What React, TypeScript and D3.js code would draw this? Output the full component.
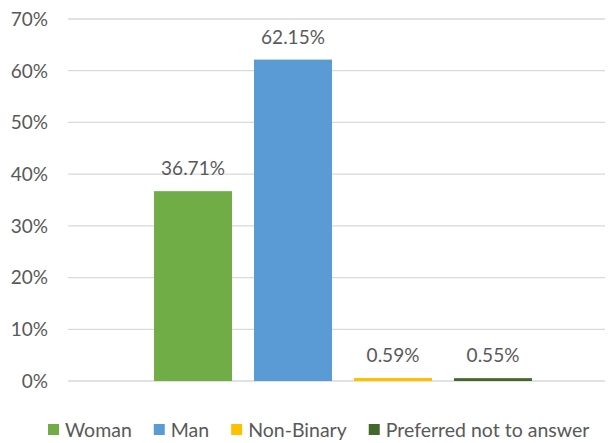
import React, { useEffect, useRef } from 'react';
import * as d3 from 'd3';

const categories = ['Woman', 'Man', 'Non-Binary', 'Preferred not to answer'];
const shares = [36.71, 62.15, 0.59, 0.55];
const colors = ['#70AD47', '#5B9BD5', '#FFC000', '#43682B'];
const yTicks = [0, 10, 20, 30, 40, 50, 60, 70];

const App: React.FC = () => {
    const ref = useRef<SVGSVGElement>(null);

    useEffect(() => {
        if (!ref.current) return;
        const svg = d3.select(ref.current);
        svg.selectAll('*').remove();

        const font = 'Lato, "Noto Sans", sans-serif';
        const textColor = '#595959';

        const y = d3.scaleLinear().domain([0, 70]).range([381, 19]);
        const x = d3.scaleBand<string>()
            .domain(categories)
            .range([143, 543])
            .paddingInner(0.22)
            .paddingOuter(0.11);

        // Gridlines + tick labels
        yTicks.forEach(t => {
            svg.append('line')
                .attr('x1', 68)
                .attr('x2', 605)
                .attr('y1', y(t))
                .attr('y2', y(t))
                .attr('stroke', '#D9D9D9')
                .attr('stroke-width', 1.3);

            svg.append('text')
                .attr('x', 48)
                .attr('y', y(t))
                .attr('dy', '0.36em')
                .attr('text-anchor', 'end')
                .attr('font-family', font)
                .attr('font-size', '19px')
                .attr('fill', textColor)
                .text(`${t}%`);
        });

        // Bars
        categories.forEach((c, i) => {
            svg.append('rect')
                .attr('x', x(c)!)
                .attr('y', y(shares[i]))
                .attr('width', x.bandwidth())
                .attr('height', y(0) - y(shares[i]))
                .attr('fill', colors[i]);

            svg.append('text')
                .attr('x', x(c)! + x.bandwidth() / 2)
                .attr('y', y(shares[i]) - 16)
                .attr('text-anchor', 'middle')
                .attr('font-family', font)
                .attr('font-size', '19px')
                .attr('fill', textColor)
                .text(`${shares[i].toFixed(2)}%`);
        });

        // Legend
        const legend = svg.append('g').attr('transform', 'translate(48, 430)');
        let offset = 0;
        categories.forEach((c, i) => {
            const item = legend.append('g').attr('transform', `translate(${offset}, 0)`);
            item.append('rect')
                .attr('x', 0)
                .attr('y', -6)
                .attr('width', 11)
                .attr('height', 11)
                .attr('fill', colors[i]);
            const label = item.append('text')
                .attr('x', 17)
                .attr('y', 0)
                .attr('dy', '0.36em')
                .attr('font-family', font)
                .attr('font-size', '19.5px')
                .attr('fill', textColor)
                .text(c);
            const w = (label.node() as SVGTextElement).getComputedTextLength();
            offset += 17 + w + 22;
        });
    }, []);

    return (
        <svg
            ref={ref}
            width={613}
            height={443}
            style={{ position: 'absolute', left: 0, top: 0, background: '#fff' }}
        ></svg>
    );
};

export default App;
